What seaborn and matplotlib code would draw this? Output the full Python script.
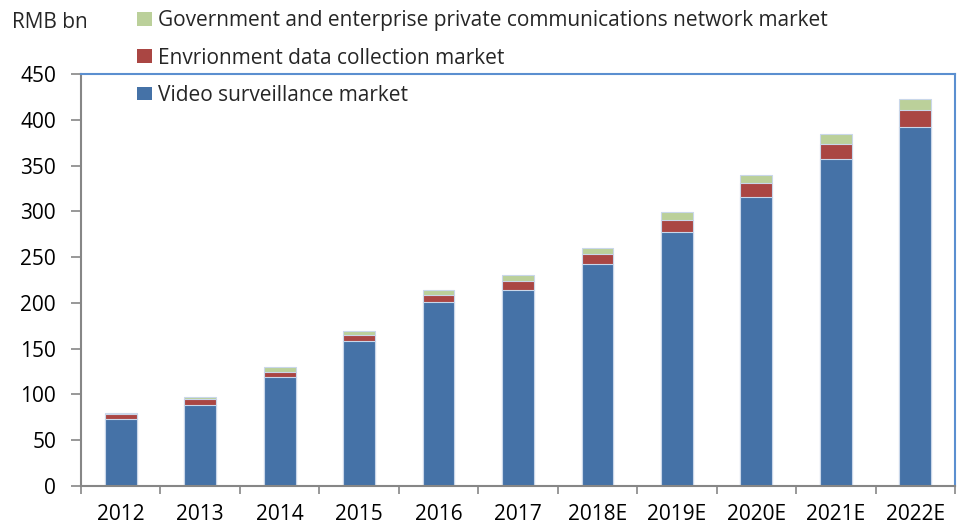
import matplotlib
matplotlib.use("Agg")
import matplotlib.pyplot as plt
import seaborn as sns
import pandas as pd
import numpy as np
from matplotlib.patches import Patch

# Market size by segment, RMB bn
years = ["2012", "2013", "2014", "2015", "2016", "2017",
         "2018E", "2019E", "2020E", "2021E", "2022E"]
video = [73.5, 89, 119, 158, 201, 214, 242, 277, 316, 357, 392]
environment = [5, 6, 6, 7, 8, 10, 11, 13, 15, 17, 18.5]
private_net = [1.5, 2, 5, 4.7, 5, 6, 7, 9, 9, 11, 12.5]

labels = ["Government and enterprise private communications network market",
          "Envrionment data collection market",
          "Video surveillance market"]

df = pd.DataFrame({"year": years, "video": video,
                   "env": environment, "net": private_net})
df["lvl1"] = df["video"]
df["lvl2"] = df["video"] + df["env"]
df["lvl3"] = df["lvl2"] + df["net"]

c_blue = "#4572A7"
c_red = "#AA4643"
c_green = "#BBD09A"

sns.set_theme(style="white")
plt.rcParams["font.family"] = ["Open Sans", "DejaVu Sans"]
FS = 15

fig = plt.figure(figsize=(9.6, 5.27), dpi=100)
ax = fig.add_axes([81 / 960, 41 / 527, 874 / 960, 412 / 527])

# stacked layers drawn as cumulative totals, tallest first
for col, color in [("lvl3", c_green), ("lvl2", c_red), ("lvl1", c_blue)]:
    sns.barplot(data=df, x="year", y=col, color=color, width=0.4,
                saturation=1, edgecolor="#C9D7EA", linewidth=0.8, ax=ax)

ax.set_xlim(-0.5, len(years) - 0.5)
ax.set_ylim(0, 450)
ax.set_yticks(np.arange(0, 451, 50))
ax.set_xlabel("")
ax.set_ylabel("")

grey = "#868686"
for side in ["left", "bottom"]:
    ax.spines[side].set_color(grey)
    ax.spines[side].set_linewidth(1.5)
for side in ["top", "right"]:
    ax.spines[side].set_color("#5B8FD0")
    ax.spines[side].set_linewidth(1.5)

ax.tick_params(axis="y", which="major", left=True, length=7, width=1.2,
               color=grey, labelsize=FS, pad=11, labelcolor="black")
ax.tick_params(axis="x", which="major", bottom=False, labelsize=FS,
               pad=7, labelcolor="black")
ax.set_xticks(np.arange(-0.5, len(years)), minor=True)
ax.tick_params(axis="x", which="minor", bottom=True, length=6, width=1.2,
               color=grey)

fig.text(12 / 960, 1 - 22 / 527, "RMB bn", fontsize=FS, va="center",
         ha="left")

handles = [Patch(facecolor=c, edgecolor="none") for c in (c_green, c_red, c_blue)]
fig.legend(handles, labels, loc="upper left",
           bbox_to_anchor=(129 / 960, 1 - 2 / 527), frameon=False,
           fontsize=FS, handlelength=0.72, handleheight=0.63,
           handletextpad=0.25, labelspacing=0.78, borderaxespad=0)

fig.savefig("out.png", dpi=100)
